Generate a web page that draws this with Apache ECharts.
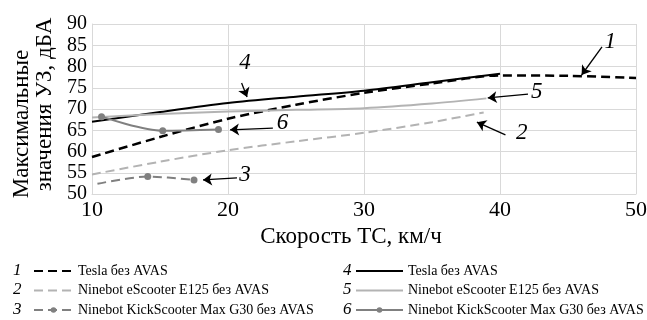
<!DOCTYPE html>
<html>
<head>
<meta charset="utf-8">
<script src="https://cdn.jsdelivr.net/npm/echarts@6/dist/echarts.min.js"></script>
<style>
  html, body { margin: 0; padding: 0; background: #fff; }
  #chart { width: 647px; height: 320px; }
</style>
</head>
<body>
<div id="chart"></div>
<script>
// ---- data ----
const xTicks = [10, 20, 30, 40, 50];
const yTicks = [50, 55, 60, 65, 70, 75, 80, 85, 90];

// 1: Tesla без AVAS (dashed)
const x1 = [10, 15, 20, 25, 30, 35, 40, 45, 50];
const y1 = [58.7, 63.4, 67.7, 71.0, 73.8, 76.0, 77.9, 77.8, 77.3];
// 2: Ninebot eScooter E125 без AVAS (dashed)
const x2 = [10, 15, 20, 25, 30, 35, 38.8];
const y2 = [54.6, 57.6, 60.3, 62.4, 64.4, 66.9, 69.2];
// 3: Ninebot KickScooter Max G30 без AVAS (dashed, markers)
const x3 = [10.4, 14.1, 17.5];
const y3 = [52.4, 54.1, 53.3];
// 4: Tesla без AVAS (solid)
const x4 = [10, 15, 20, 25, 30, 35, 40];
const y4 = [67.0, 69.3, 71.4, 72.9, 74.3, 76.3, 78.3];
// 5: Ninebot eScooter E125 без AVAS (solid)
const x5 = [10, 15, 20, 25, 30, 35, 39];
const y5 = [68.0, 68.8, 69.4, 69.8, 70.2, 71.3, 72.5];
// 6: Ninebot KickScooter Max G30 без AVAS (solid, markers)
const x6 = [10.7, 15.2, 19.3];
const y6 = [68.2, 64.9, 65.2];

const seriesKeys = ['s1', 's2', 's3', 's4', 's5', 's6'];
const hasMarker = [false, false, true, false, false, true];
const legendNums = ['1', '2', '3', '4', '5', '6'];
const legendText = [
    'Tesla без AVAS',
    'Ninebot eScooter E125 без AVAS',
    'Ninebot KickScooter Max G30 без AVAS',
    'Tesla без AVAS',
    'Ninebot eScooter E125 без AVAS',
    'Ninebot KickScooter Max G30 без AVAS'
];

// number callouts (data coords)
const noteLabels = ['1', '2', '3', '4', '5', '6'];
const notePos = [[48.1, 85.8], [41.6, 64.4], [21.25, 54.5], [21.25, 80.8], [42.7, 74.0], [24.0, 66.7]];
const arrowFrom = [[47.5, 84.6], [40.4, 63.9], [20.66, 53.8], [21.0, 76.1], [42.06, 73.5], [23.3, 65.5]];
const arrowTo = [[46.0, 78.0], [38.3, 66.9], [18.16, 53.3], [21.4, 72.8], [39.1, 72.6], [20.15, 65.1]];

const SERIF = '"Liberation Serif", "DejaVu Serif", serif';
const LIGHT = '#b3b3b3';
const MID = '#808080';

function pairs(xs, ys) {
    return xs.map((x, i) => [x, ys[i]]);
}

const chart = echarts.init(document.getElementById('chart'), null, { renderer: 'canvas' });

const lineBase = {
    type: 'line',
    smooth: 0.3,
    symbol: 'none',
    silent: true,
    animation: false,
    emphasis: { disabled: true }
};

const series = [
    Object.assign({}, lineBase, {
        name: 's1', data: pairs(x1, y1),
        lineStyle: { color: '#000', width: 2.5, type: [9, 5] }, itemStyle: { color: '#000' }
    }),
    Object.assign({}, lineBase, {
        name: 's2', data: pairs(x2, y2),
        lineStyle: { color: LIGHT, width: 2, type: [9, 5] }, itemStyle: { color: LIGHT }
    }),
    Object.assign({}, lineBase, {
        name: 's3',
        data: pairs(x3, y3).map((p, i) => i === 0 ? { value: p, symbol: 'none' } : p),
        symbol: 'circle', symbolSize: 7, showSymbol: true,
        lineStyle: { color: MID, width: 2, type: [9, 5] }, itemStyle: { color: MID }
    }),
    Object.assign({}, lineBase, {
        name: 's4', data: pairs(x4, y4),
        lineStyle: { color: '#000', width: 2 }, itemStyle: { color: '#000' }
    }),
    Object.assign({}, lineBase, {
        name: 's5', data: pairs(x5, y5),
        lineStyle: { color: LIGHT, width: 2 }, itemStyle: { color: LIGHT }
    }),
    Object.assign({}, lineBase, {
        name: 's6', data: pairs(x6, y6),
        symbol: 'circle', symbolSize: 7, showSymbol: true,
        lineStyle: { color: MID, width: 2 }, itemStyle: { color: MID }
    }),
    // callouts: numbers + arrows
    {
        name: 'notes',
        type: 'line',
        data: [],
        silent: true,
        animation: false,
        markLine: {
            silent: true,
            symbol: ['none', 'arrow'],
            symbolSize: 9,
            label: { show: false },
            lineStyle: { color: '#000', width: 1.3, type: 'solid' },
            emphasis: { disabled: true },
            data: arrowFrom.map((a, i) => [{ coord: a }, { coord: arrowTo[i] }])
        },
        markPoint: {
            silent: true,
            symbol: 'circle',
            symbolSize: 1,
            itemStyle: { color: 'rgba(0,0,0,0)' },
            label: {
                show: true,
                position: 'inside',
                color: '#000',
                fontFamily: SERIF,
                fontStyle: 'italic',
                fontSize: 23
            },
            data: notePos.map((p, i) => ({ coord: p, value: noteLabels[i], label: { formatter: noteLabels[i] } }))
        }
    }
];

const LEG_TOP = 264;
const LEG_STEP = 19.5;

function legendFor(from, left, width) {
    const keys = seriesKeys.slice(from, from + 3);
    return {
        orient: 'vertical',
        left: left,
        top: LEG_TOP,
        height: 60,
        padding: 0,
        data: keys.map((k, j) => hasMarker[from + j] ? { name: k } : { name: k, itemStyle: { opacity: 0 } }),
        itemWidth: width,
        itemHeight: 7,
        itemGap: 5.5,
        selectedMode: false,
        formatter: name => legendText[seriesKeys.indexOf(name)],
        textStyle: { fontFamily: SERIF, fontSize: 14, color: '#000' }
    };
}

const legendNumGraphics = legendNums.map((n, i) => ({
    type: 'text',
    left: i < 3 ? 13 : 343,
    top: LEG_TOP - 2 + (i % 3) * LEG_STEP,
    style: { text: n, fontFamily: SERIF, fontStyle: 'italic', fontSize: 17, fill: '#000' }
}));

chart.setOption({
    backgroundColor: '#fff',
    animation: false,
    grid: { left: 92, right: 11, top: 24, bottom: 126, containLabel: false, outerBoundsMode: 'none' },
    xAxis: {
        type: 'value',
        min: xTicks[0],
        max: xTicks[xTicks.length - 1],
        interval: 10,
        name: 'Скорость ТС, км/ч',
        nameLocation: 'middle',
        nameGap: 30,
        nameTextStyle: { fontFamily: SERIF, fontSize: 23, color: '#000', padding: [0, 26, 0, 0] },
        axisLine: { show: true, lineStyle: { color: '#d9d9d9', width: 1 } },
        axisTick: { show: false },
        axisLabel: { fontFamily: SERIF, fontSize: 22, color: '#000', margin: 5 },
        splitLine: { show: true, lineStyle: { color: '#d9d9d9', width: 1 } }
    },
    yAxis: {
        type: 'value',
        min: yTicks[0],
        max: yTicks[yTicks.length - 1],
        interval: 5,
        name: '{a|Максимальные}\n{b|значения УЗ, дБА}',
        nameLocation: 'middle',
        nameGap: 36,
        nameTextStyle: {
            fontFamily: SERIF, fontSize: 23, lineHeight: 23, color: '#000',
            rich: {
                a: { fontFamily: SERIF, fontSize: 23, lineHeight: 23, color: '#000', padding: [0, 30, 0, 0] },
                b: { fontFamily: SERIF, fontSize: 23, lineHeight: 23, color: '#000', padding: [0, 0, 0, 9] }
            }
        },
        axisLine: { show: true, lineStyle: { color: '#d9d9d9', width: 1 } },
        axisTick: { show: false },
        axisLabel: { fontFamily: SERIF, fontSize: 20, color: '#000', margin: 5 },
        splitLine: { show: true, lineStyle: { color: '#d9d9d9', width: 1 } }
    },
    legend: [
        legendFor(0, 33, 39),
        legendFor(3, 355, 47)
    ],
    graphic: legendNumGraphics,
    series: series
});
</script>
</body>
</html>
